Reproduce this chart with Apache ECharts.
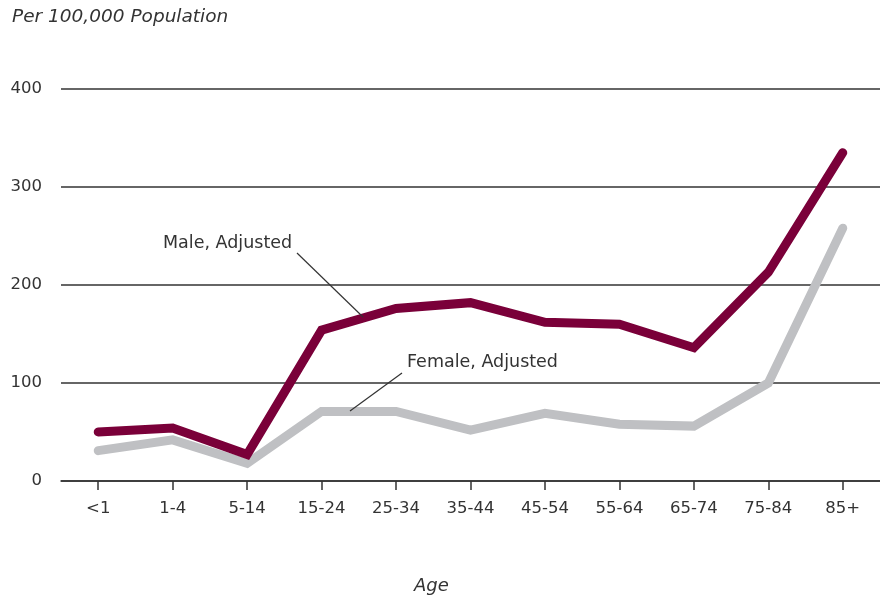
<!DOCTYPE html>
<html>
<head>
<meta charset="utf-8">
<script src="https://cdn.jsdelivr.net/npm/echarts@6/dist/echarts.min.js"></script>
<style>html,body{margin:0;padding:0;background:#fff;}#c{width:880px;height:598px;}</style>
</head>
<body>
<div id="c"></div>
<script>
const categories = ['<1','1-4','5-14','15-24','25-34','35-44','45-54','55-64','65-74','75-84','85+'];
const maleAdjusted = [50, 54, 27, 154, 176, 182, 162, 160, 136, 213, 335];
const femaleAdjusted = [31, 42, 18, 71, 71, 52, 69, 58, 56, 100, 258];
const yTicks = [0, 100, 200, 300, 400];

const FONT = '"DejaVu Sans", "Noto Sans", sans-serif';
const chart = echarts.init(document.getElementById('c'), null, {renderer: 'canvas'});
chart.setOption({
  backgroundColor: '#fff',
  animation: false,
  textStyle: {fontFamily: FONT},
  grid: {left: 61, right: 0, top: 89, bottom: 117, containLabel: false},
  xAxis: {
    type: 'category',
    data: categories,
    boundaryGap: true,
    axisLine: {lineStyle: {color: '#333', width: 1.5}},
    axisTick: {show: true, alignWithLabel: true, length: 9, lineStyle: {color: '#333', width: 1.5}},
    axisLabel: {color: '#333', fontSize: 16.5, margin: 19, fontFamily: FONT},
    splitLine: {show: false}
  },
  yAxis: {
    type: 'value',
    min: yTicks[0], max: yTicks[yTicks.length - 1], interval: 100,
    axisLine: {show: false},
    axisTick: {show: false},
    axisLabel: {color: '#333', fontSize: 16.5, margin: 19, fontFamily: FONT},
    splitLine: {lineStyle: {color: '#333', width: 1.5}}
  },
  series: [
    {
      name: 'Female, Adjusted', type: 'line', data: femaleAdjusted,
      symbol: 'none', z: 2,
      lineStyle: {color: '#bfc0c3', width: 9, cap: 'round', join: 'miter'}
    },
    {
      name: 'Male, Adjusted', type: 'line', data: maleAdjusted,
      symbol: 'none', z: 3,
      lineStyle: {color: '#7a0039', width: 9, cap: 'round', join: 'miter'}
    }
  ],
  graphic: [
    {type: 'text', left: 12, top: 8, style: {text: 'Per 100,000 Population', font: 'italic 18.5px ' + FONT, fill: '#333'}},
    {type: 'text', left: 414, top: 577, style: {text: 'Age', font: 'italic 18px ' + FONT, fill: '#333'}},
    {type: 'text', left: 163, top: 234, style: {text: 'Male, Adjusted', font: '17.5px ' + FONT, fill: '#333'}},
    {type: 'line', shape: {x1: 297, y1: 253, x2: 363, y2: 317}, style: {stroke: '#333', lineWidth: 1.2}, z: 10},
    {type: 'text', left: 407, top: 353, style: {text: 'Female, Adjusted', font: '17.5px ' + FONT, fill: '#333'}},
    {type: 'line', shape: {x1: 402, y1: 373, x2: 350, y2: 411}, style: {stroke: '#333', lineWidth: 1.2}, z: 10}
  ]
});
</script>
</body>
</html>
